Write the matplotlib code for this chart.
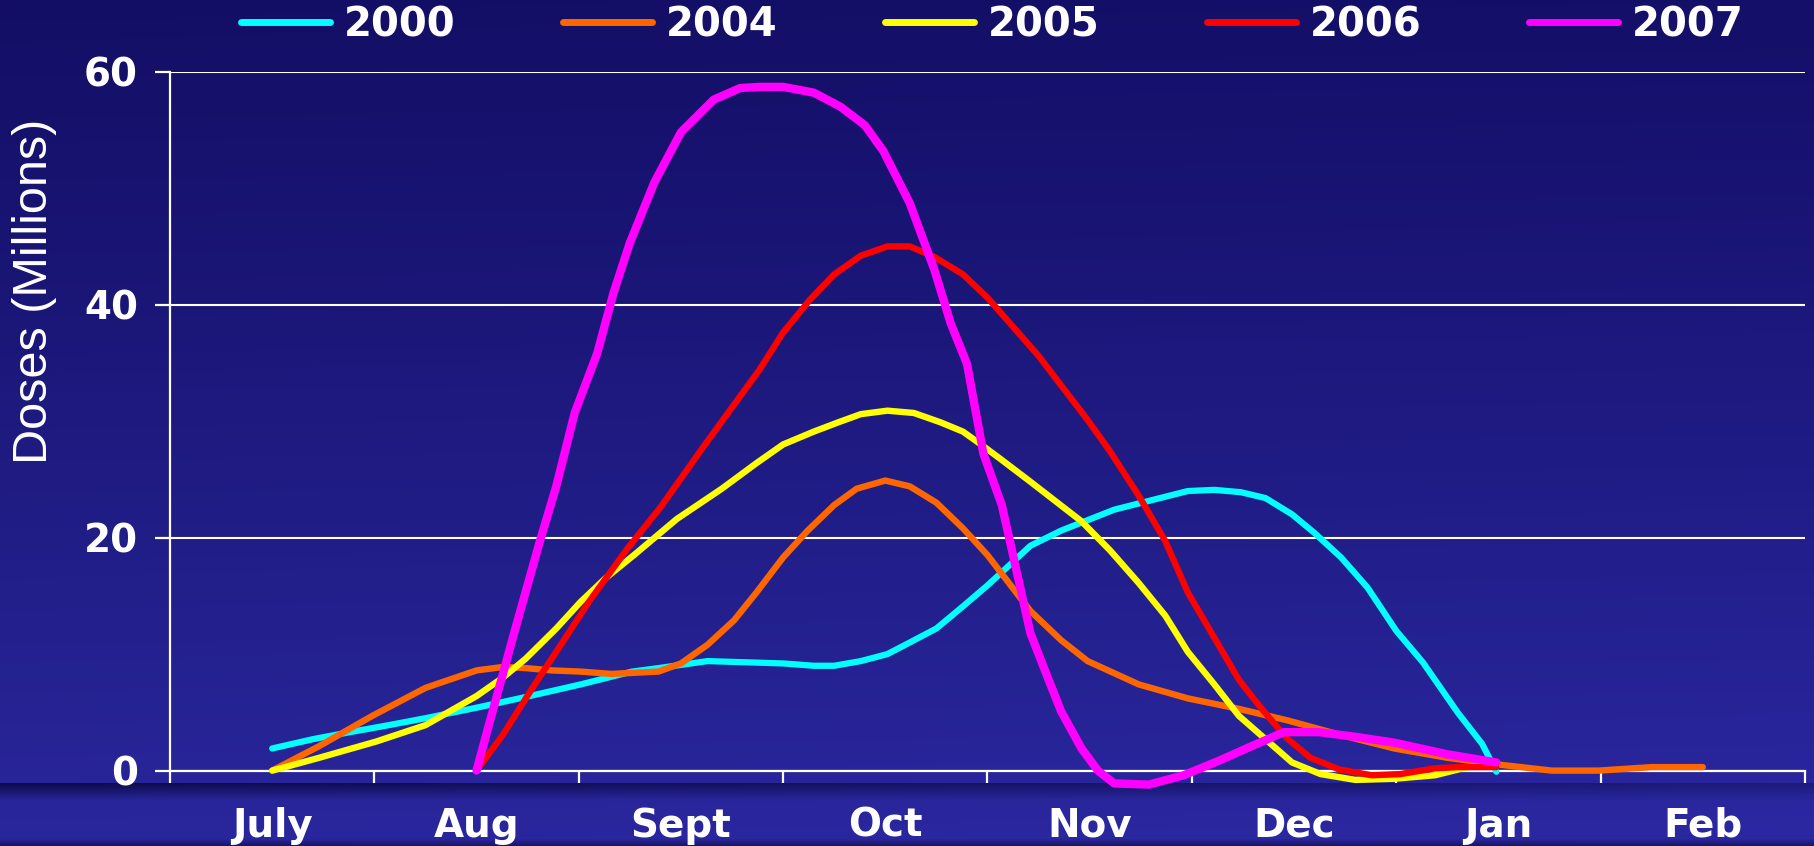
import numpy as np
import matplotlib
matplotlib.use('Agg')
import matplotlib.pyplot as plt
from matplotlib.lines import Line2D

# ---------------- data ----------------
months = ['July', 'Aug', 'Sept', 'Oct', 'Nov', 'Dec', 'Jan', 'Feb']
yticks = [0, 20, 40, 60]
series_names = ['2000', '2004', '2005', '2006', '2007']
colors = ['#00FFFF', '#FF6600', '#FFFF00', '#FF0000', '#FF00FF']

# x is in months since 1 July (0 = July start, 8 = end of Feb)
x_2000 = [0.5, 0.7, 0.88, 1.07, 1.25, 1.5, 1.71, 2.01, 2.26, 2.39, 2.63, 3.0, 3.15, 3.25,
          3.38, 3.51, 3.62, 3.75, 3.88, 4.0, 4.21, 4.36, 4.62, 4.98, 5.11, 5.24, 5.36, 5.49,
          5.6, 5.73, 5.86, 6.0, 6.13, 6.3, 6.42, 6.49]
y_2000 = [1.9, 2.7, 3.3, 3.9, 4.5, 5.4, 6.2, 7.4, 8.5, 8.8, 9.4, 9.2, 9.0, 9.0,
          9.4, 10.0, 11.0, 12.2, 14.1, 15.9, 19.3, 20.6, 22.4, 24.0, 24.1, 23.9, 23.4, 22.0,
          20.4, 18.3, 15.7, 12.0, 9.3, 5.0, 2.3, -0.1]

x_2004 = [0.5, 0.73, 0.99, 1.25, 1.5, 1.63, 1.74, 1.87, 2.01, 2.16, 2.39, 2.5, 2.63, 2.76,
          2.87, 3.0, 3.12, 3.25, 3.36, 3.5, 3.62, 3.75, 3.88, 4.0, 4.21, 4.36, 4.49, 4.74,
          4.98, 5.23, 5.47, 5.72, 5.99, 6.25, 6.51, 6.76, 6.99, 7.25, 7.5]
y_2004 = [0.0, 2.1, 4.7, 7.1, 8.6, 8.9, 8.8, 8.6, 8.5, 8.3, 8.5, 9.2, 10.8, 12.9,
          15.3, 18.3, 20.6, 22.8, 24.2, 24.9, 24.4, 23.0, 20.8, 18.5, 13.7, 11.2, 9.4, 7.4,
          6.2, 5.3, 4.3, 3.1, 1.9, 1.1, 0.5, 0.0, 0.0, 0.3, 0.3]

x_2005 = [0.5, 0.73, 1.01, 1.25, 1.5, 1.63, 1.74, 1.89, 2.01, 2.13, 2.27, 2.48, 2.7, 2.87,
          3.0, 3.15, 3.27, 3.38, 3.51, 3.64, 3.77, 3.88, 3.96, 4.06, 4.21, 4.46, 4.6, 4.74,
          4.87, 4.98, 5.11, 5.23, 5.36, 5.49, 5.63, 5.8, 5.99, 6.19, 6.35, 6.49]
y_2005 = [0.0, 1.1, 2.5, 3.9, 6.4, 8.0, 9.6, 12.2, 14.5, 16.5, 18.5, 21.6, 24.2, 26.4,
          28.0, 29.1, 29.9, 30.6, 30.9, 30.7, 29.9, 29.1, 28.1, 26.8, 24.8, 21.4, 18.9, 16.1,
          13.3, 10.2, 7.4, 4.7, 2.7, 0.7, -0.3, -0.8, -0.7, -0.4, 0.3, 0.4]

x_2006 = [1.5, 1.63, 1.77, 1.92, 2.05, 2.24, 2.4, 2.61, 2.78, 2.88, 3.0, 3.13, 3.25, 3.38,
          3.51, 3.62, 3.74, 3.88, 4.0, 4.25, 4.49, 4.6, 4.74, 4.87, 4.98, 5.11, 5.23, 5.31,
          5.39, 5.47, 5.58, 5.72, 5.88, 6.02, 6.19, 6.3, 6.49]
y_2006 = [0.0, 3.1, 7.0, 11.0, 14.5, 19.1, 22.6, 27.8, 31.9, 34.3, 37.6, 40.4, 42.6, 44.2,
          45.0, 45.0, 44.1, 42.6, 40.6, 35.6, 30.1, 27.4, 23.6, 19.7, 15.3, 11.4, 7.8, 6.0,
          4.3, 2.7, 1.1, 0.1, -0.4, -0.3, 0.2, 0.3, 0.3]

x_2007 = [1.5, 1.56, 1.69, 1.81, 1.89, 1.98, 2.09, 2.17, 2.25, 2.37, 2.5, 2.66, 2.79, 2.89,
          3.0, 3.15, 3.28, 3.4, 3.49, 3.62, 3.74, 3.82, 3.9, 3.98, 4.07, 4.13, 4.21, 4.29,
          4.36, 4.46, 4.54, 4.62, 4.79, 4.96, 5.14, 5.28, 5.45, 5.62, 5.8, 5.99, 6.25, 6.49]
y_2007 = [0.0, 3.9, 12.2, 19.7, 24.4, 30.7, 35.8, 41.0, 45.3, 50.5, 54.8, 57.6, 58.6, 58.7,
          58.7, 58.2, 57.0, 55.4, 53.2, 48.7, 43.0, 38.4, 34.9, 27.2, 22.8, 18.1, 11.8, 8.2,
          5.1, 1.9, 0.0, -1.1, -1.2, -0.4, 0.9, 2.0, 3.3, 3.3, 2.9, 2.4, 1.4, 0.7]

series_x = [x_2000, x_2004, x_2005, x_2006, x_2007]
series_y = [y_2000, y_2004, y_2005, y_2006, y_2007]
line_widths = [4.5, 4.6, 4.6, 4.6, 6.0]

# ---------------- figure ----------------
W, H = 1814, 846
fig = plt.figure(figsize=(W / 100, H / 100), dpi=100)

# background gradient (navy at top to brighter blue at bottom)
rows = np.linspace(0, 1, H)[:, None]
cols = np.linspace(0, 1, W)[None, :]
top = np.array([20, 15, 104]) / 255
bot = np.array([43, 40, 162]) / 255
t = rows ** 1.1
bg = top[None, None, :] * (1 - t[..., None]) + bot[None, None, :] * t[..., None]
bg = np.repeat(bg, W, axis=1)
bg = bg * (0.97 + 0.03 * cols[..., None])
# dark band below the x axis
band_top, band_bot = 783, 800
for r in range(band_top, band_bot):
    f = (r - band_top) / (band_bot - band_top)
    dark = np.array([12, 10, 72]) / 255
    strength = (1 - f) * (0.95 - 0.55 * cols[0])
    bg[r] = bg[r] * (1 - strength[:, None]) + dark[None, :] * strength[:, None]
# dark strip at the very bottom
for r in range(H - 8, H):
    f = (r - (H - 8)) / 8
    dark = np.array([18, 14, 78]) / 255
    bg[r] = bg[r] * (1 - 0.8 * f) + dark * 0.8 * f

bax = fig.add_axes([0, 0, 1, 1], zorder=-10)
bax.imshow(bg, aspect='auto', extent=[0, 1, 0, 1], origin='upper')
bax.set_axis_off()

left, right_px, top_px, bot_px = 170, 1805, 71.7, 770.6
ax = fig.add_axes([left / W, (H - bot_px) / H, (right_px - left) / W, (bot_px - top_px) / H])
ax.set_facecolor('none')

for xs, ys, c, lw, name in zip(series_x, series_y, colors, line_widths, series_names):
    ax.plot(xs, ys, color=c, lw=lw, label=name, clip_on=False,
            solid_capstyle='round', solid_joinstyle='round', zorder=3)

ax.set_xlim(0, 8)
ax.set_ylim(0, 60)

for s in ['top', 'right']:
    ax.spines[s].set_visible(False)
for s in ['left', 'bottom']:
    ax.spines[s].set_color('white')
    ax.spines[s].set_linewidth(1.6)

ax.set_yticks(yticks)
ax.set_yticklabels([str(v) for v in yticks])
ax.yaxis.grid(True, color='white', lw=1.5)
ax.set_axisbelow(True)

ax.set_xticks(np.arange(0, 9))
ax.set_xticklabels([])
ax.set_xticks(np.arange(8) + 0.5, minor=True)
ax.set_xticklabels(months, minor=True)

ax.tick_params(axis='x', which='major', direction='out', length=8.5, width=1.6, color='white')
ax.tick_params(axis='x', which='minor', length=0, pad=26, labelcolor='white')
ax.tick_params(axis='y', direction='out', length=11, width=1.6, color='white',
               pad=12, labelcolor='white')

for lab in ax.get_xticklabels(minor=True):
    lab.set_fontfamily('DejaVu Sans')
    lab.set_fontweight('bold')
    lab.set_fontsize(28)
for lab in ax.get_yticklabels():
    lab.set_fontfamily('DejaVu Sans')
    lab.set_fontweight('bold')
    lab.set_fontsize(28)

fig.text(0.019, 0.655, 'Doses (Millions)', rotation=90, ha='center', va='center',
         color='white', fontsize=35, family='Liberation Sans')

handles = [Line2D([0], [0], color=c, lw=5.0, solid_capstyle='round') for c in colors]
leg = fig.legend(handles, series_names, loc='center left', ncol=5,
                 bbox_to_anchor=(0.133, 0.970), frameon=False,
                 prop={'family': 'DejaVu Sans', 'weight': 'bold', 'size': 29},
                 handlelength=2.2, handletextpad=0.35, columnspacing=2.67,
                 borderpad=0, borderaxespad=0)
for txt in leg.get_texts():
    txt.set_color('white')

fig.savefig('out.png', dpi=100)
